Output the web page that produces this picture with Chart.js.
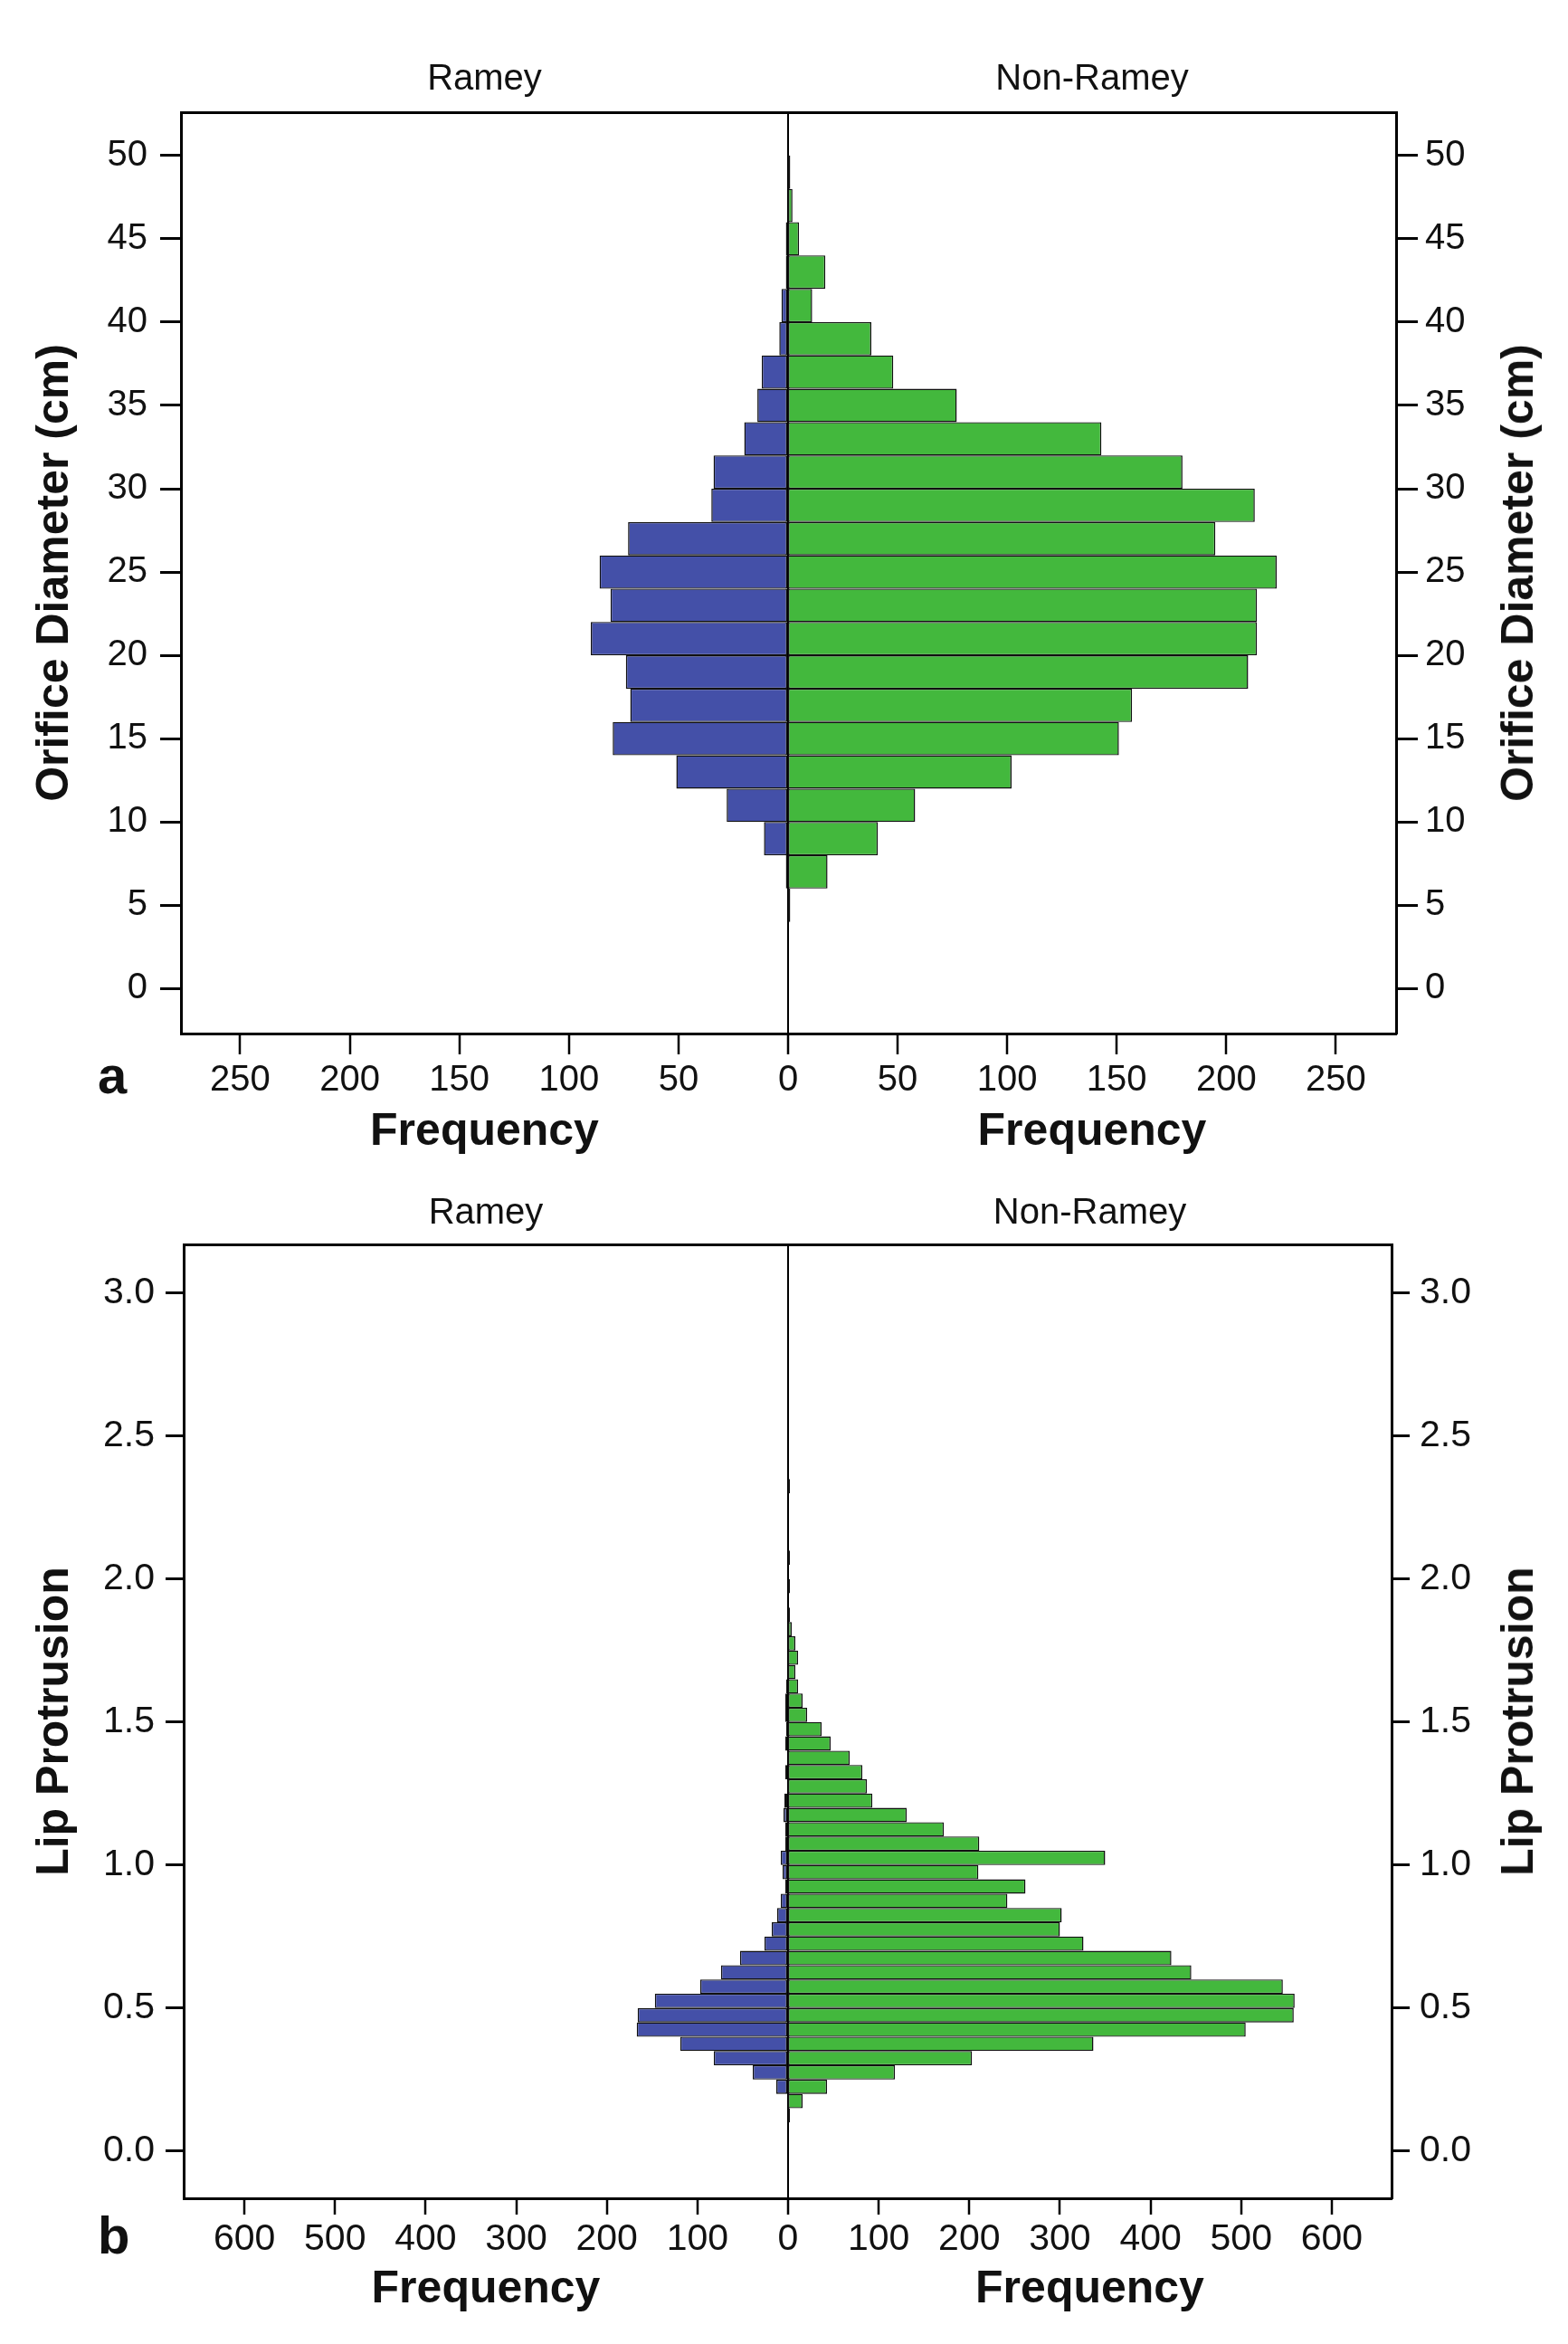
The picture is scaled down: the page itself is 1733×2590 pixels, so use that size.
<!DOCTYPE html>
<html>
<head>
<meta charset="utf-8">
<script src="https://cdn.jsdelivr.net/npm/chart.js"></script>
<style>
html,body{margin:0;padding:0;background:#fff;}
body{width:1733px;height:2590px;position:relative;overflow:hidden;font-family:'Liberation Sans',Arial,sans-serif;color:#111;}
canvas{position:absolute;left:0;}
.lbl{position:absolute;font-weight:bold;white-space:nowrap;}
.side{position:absolute;font-weight:bold;font-size:50px;line-height:50px;white-space:nowrap;transform:translate(-50%,-50%) rotate(-90deg);}
</style>
</head>
<body>
<canvas id="aL" width="1733" height="1300" style="top:0"></canvas>
<canvas id="aR" width="1733" height="1300" style="top:0"></canvas>
<canvas id="bL" width="1733" height="1290" style="top:1300px"></canvas>
<canvas id="bR" width="1733" height="1290" style="top:1300px"></canvas>
<div class="lbl" style="left:108px;top:1159px;font-size:58px;line-height:58px">a</div>
<div class="lbl" style="left:108px;top:2441px;font-size:58px;line-height:58px">b</div>
<div class="side" style="left:1677px;top:633px">Orifice Diameter (cm)</div>
<div class="side" style="left:1677px;top:1902px">Lip Protrusion</div>
<script>
// ---------- data ----------
const sides = ['Ramey', 'Non-Ramey'];
const freqTitle = 'Frequency';

// Panel a: Orifice Diameter (cm), bins of 2 cm (lower edges)
const binLowerA = [4,6,8,10,12,14,16,18,20,22,24,26,28,30,32,34,36,38,40,42,44,46,48];
const binWidthA = 2;
const rameyA    = [0,1,11,28,51,80,72,74,90,81,86,73,35,34,20,14,12,4,3,1,1,0,0];
const nonRameyA = [1,18,41,58,102,151,157,210,214,214,223,195,213,180,143,77,48,38,11,17,5,2,1];
const yTicksA = [0,5,10,15,20,25,30,35,40,45,50];
const freqTicksA = [0,50,100,150,200,250];

// Panel b: Lip Protrusion, bins of 0.05 (lower edges)
const binLowerB = [0.10,0.15,0.20,0.25,0.30,0.35,0.40,0.45,0.50,0.55,
                   0.60,0.65,0.70,0.75,0.80,0.85,0.90,0.95,1.00,1.05,
                   1.10,1.15,1.20,1.25,1.30,1.35,1.40,1.45,1.50,1.55,
                   1.60,1.65,1.70,1.75,1.80,1.85,1.90,1.95,2.00,2.05,
                   2.10,2.15,2.20,2.25,2.30];
const binWidthB = 0.05;
const rameyB    = [0,0,13,39,82,119,167,166,147,97,
                   74,53,26,18,12,8,3,6,8,3,
                   3,5,4,1,3,1,3,2,3,3,
                   2,0,0,0,0,0,0,0,0,0,
                   0,0,1,0,0];
const nonRameyB = [2,16,43,118,203,337,505,558,559,546,
                   445,423,326,300,302,242,262,210,350,211,
                   172,131,93,87,82,68,47,37,21,16,
                   11,8,11,8,4,2,0,2,0,2,
                   0,0,0,0,2];
const yTicksB = [0,0.5,1.0,1.5,2.0,2.5,3.0];
const freqTicksB = [0,100,200,300,400,500,600];

// ---------- style ----------
const BLUE = '#4450A8', GREEN = '#43B83D', INK = '#111111';
Chart.defaults.font.family = "'Liberation Sans', Arial, sans-serif";
Chart.defaults.color = INK;

const panelA = {
  binLower: binLowerA, binWidth: binWidthA, ramey: rameyA, nonRamey: nonRameyA,
  yTicks: yTicksA, freqTicks: freqTicksA, yTitle: 'Orifice Diameter (cm)',
  yFmt: v => String(v), yMin: -2.7, yMax: 52.6, xMaxL: 277, xMaxR: 277.5,
  h: 1300, area: {left:200, center:871, right:1543, top:124, bottom:1142},
  xAxisH: 134, xTickLen: 23, xPad: 9, tickSize: 40,
  yTickL: 23, yPadL: 14, yTickR: 24, yPadR: 8, topTitlePad: 68
};
const panelB = {
  binLower: binLowerB, binWidth: binWidthB, ramey: rameyB, nonRamey: nonRameyB,
  yTicks: yTicksB, freqTicks: freqTicksB, yTitle: 'Lip Protrusion',
  yFmt: v => Number(v).toFixed(1), yMin: -0.165, yMax: 3.17, xMaxL: 667, xMaxR: 666,
  h: 1290, area: {left:203, center:871, right:1538, top:75, bottom:1129},
  xAxisH: 126, xTickLen: 18, xPad: 7, tickSize: 41,
  yTickL: 20, yPadL: 12, yTickR: 20, yPadR: 11, topTitlePad: 21
};

function buildHalf(canvasId, p, side) {
  const isLeft = side === 0;
  const W = 1733;
  const a = p.area;
  const values = isLeft ? p.ramey : p.nonRamey;
  const points = p.binLower.map((lo, i) => ({ y: +(lo + p.binWidth / 2).toFixed(4), x: values[i] }));
  const yTickObjs = () => p.yTicks.map(v => ({ value: v }));
  const xTickObjs = () => p.freqTicks.filter(v => isLeft || v !== 0).map(v => ({ value: v }));
  const blank = 'rgba(0,0,0,0)';
  const padBottom = p.h - a.bottom - p.xAxisH;
  new Chart(document.getElementById(canvasId), {
    type: 'bar',
    data: {
      datasets: [{
        label: sides[side],
        data: points,
        xAxisID: 'x',
        yAxisID: 'y',
        backgroundColor: isLeft ? BLUE : GREEN,
        borderColor: '#111111',
        borderWidth: {top: 1.3, bottom: 1.3, left: 1.5, right: 1.5},
        borderSkipped: false,
        barPercentage: 1,
        categoryPercentage: 1,
        inflateAmount: 0
      }]
    },
    options: {
      indexAxis: 'y',
      responsive: false,
      animation: false,
      layout: {
        padding: isLeft
          ? {left: 0, right: W - a.center, top: 0, bottom: padBottom}
          : {left: a.center, right: 0, top: 0, bottom: padBottom}
      },
      plugins: { legend: {display: false}, tooltip: {enabled: false}, title: {display: false} },
      scales: {
        x: {
          type: 'linear', position: 'bottom', reverse: isLeft,
          min: 0, max: isLeft ? p.xMaxL : p.xMaxR,
          afterBuildTicks: s => { s.ticks = xTickObjs(); },
          afterFit: s => { s.height = p.xAxisH; },
          ticks: {font: {size: p.tickSize, lineHeight: 1}, color: INK, padding: p.xPad,
                  maxRotation: 0, autoSkip: false, callback: v => String(Math.abs(v))},
          grid: {display: true, drawOnChartArea: true,
                 color: c => (c.tick && c.tick.value === 0) ? '#000' : blank,
                 lineWidth: 2, drawTicks: true, tickLength: p.xTickLen,
                 tickWidth: 2.5, tickColor: '#000', offset: false},
          border: {display: true, color: '#000', width: 3},
          title: {display: true, text: freqTitle, color: INK,
                  font: {size: 50, weight: 'bold', lineHeight: 1}, padding: {top: 0, bottom: 0}}
        },
        y: {
          type: 'linear', position: isLeft ? 'left' : 'right',
          min: p.yMin, max: p.yMax, offset: false,
          afterBuildTicks: s => { s.ticks = yTickObjs(); },
          afterFit: s => { s.width = isLeft ? a.left : W - a.right; },
          ticks: {font: {size: p.tickSize, lineHeight: 1}, color: INK,
                  padding: isLeft ? p.yPadL : p.yPadR, autoSkip: false, callback: p.yFmt},
          grid: {display: true, drawOnChartArea: false, drawTicks: true,
                 tickLength: isLeft ? p.yTickL : p.yTickR, tickWidth: 3,
                 tickColor: '#000', offset: false},
          border: {display: true, color: '#000', width: 3},
          title: {display: isLeft, text: p.yTitle, color: INK,
                  font: {size: 50, weight: 'bold', lineHeight: 1}, padding: {top: 36, bottom: 0}}
        },
        xTop: {
          type: 'linear', position: 'top', min: 0, max: 1,
          afterFit: s => { s.height = a.top; },
          ticks: {display: false},
          grid: {display: false, drawTicks: false},
          border: {display: true, color: '#000', width: 3},
          title: {display: true, text: sides[side], color: INK,
                  font: {size: 40, lineHeight: 1}, padding: {top: p.topTitlePad, bottom: 0}}
        }
      }
    }
  });
}

buildHalf('aL', panelA, 0);
buildHalf('aR', panelA, 1);
buildHalf('bL', panelB, 0);
buildHalf('bR', panelB, 1);
</script>
</body>
</html>
